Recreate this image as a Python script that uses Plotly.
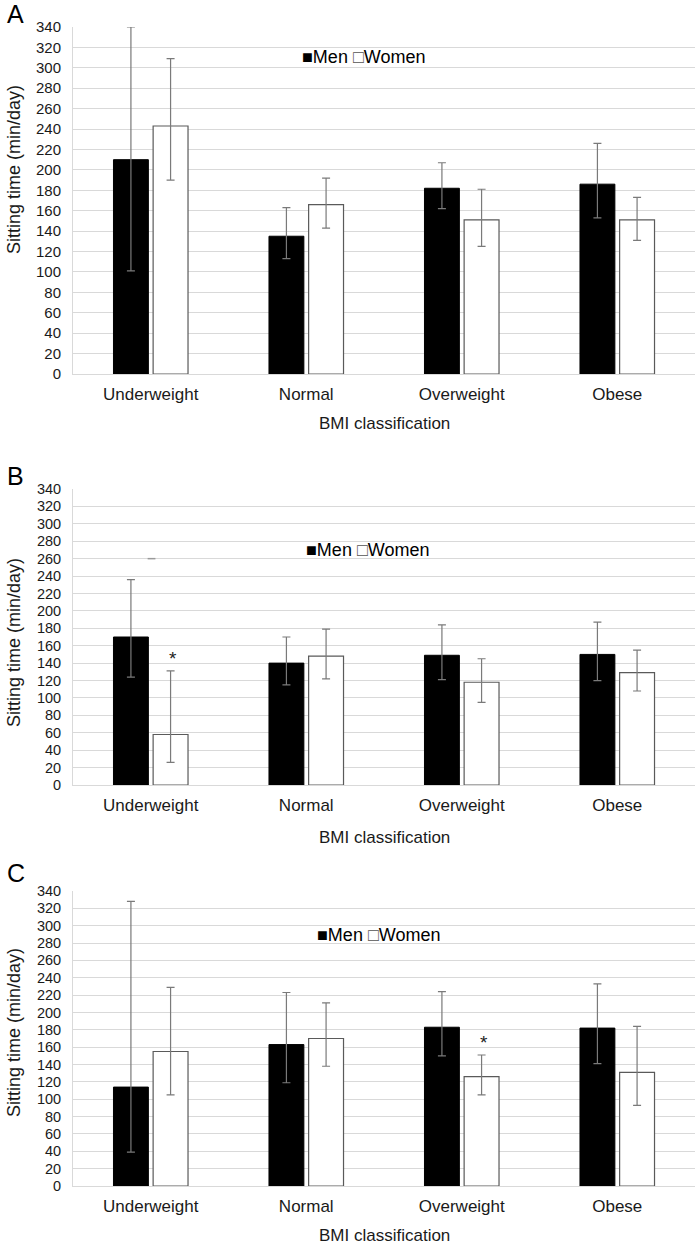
import plotly.graph_objects as go

W, H = 698, 1245

categories = ["Underweight", "Normal", "Overweight", "Obese"]
panel_letters = ["A", "B", "C"]
y_ticks = list(range(0, 341, 20))

# Panel A
a_men = [210, 135, 182, 186]
a_men_hi = [340, 163, 207, 226]
a_men_lo = [101, 113, 162, 153]
a_women = [243, 166, 151, 151]
a_women_hi = [309, 192, 181, 173]
a_women_lo = [190, 143, 125, 131]

# Panel B
b_men = [170, 140, 149, 150]
b_men_hi = [236, 170, 184, 187]
b_men_lo = [124, 115, 121, 120]
b_women = [58, 148, 118, 129]
b_women_hi = [131, 179, 145, 155]
b_women_lo = [26, 122, 95, 108]

# Panel C
c_men = [114, 163, 183, 182]
c_men_hi = [328, 223, 224, 233]
c_men_lo = [39, 119, 150, 141]
c_women = [155, 170, 126, 131]
c_women_hi = [229, 211, 151, 184]
c_women_lo = [105, 138, 105, 93]

# significance markers: (panel index, category, sex)
signif = [(1, "Underweight", "women"), (2, "Overweight", "women")]

panels = [
    (a_men, a_men_hi, a_men_lo, a_women, a_women_hi, a_women_lo),
    (b_men, b_men_hi, b_men_lo, b_women, b_women_hi, b_women_lo),
    (c_men, c_men_hi, c_men_lo, c_women, c_women_hi, c_women_lo),
]

# layout in page pixels
plot_left, plot_right = 73, 695
plot_px = [(27, 374), (489, 785), (891, 1186)]  # (top, bottom)
xlabel_y = [424, 837, 1235]
ytitle_y = [170, 643, 1033]
letter_y = [14, 476, 873]
legend_y = [57, 550, 935]
legend_x = [363, 368, 378]
tick_font = [15, 14.5, 14.5]

FONT = "Arial, 'Liberation Sans', Helvetica, sans-serif"
ERR_COL = "#7a7a7a"
GRID = "#d9d9d9"


def px_x(p):
    return p / W


def px_y(p):
    return 1 - p / H


fig = go.Figure()
annotations = []

for i, (m, mhi, mlo, w, whi, wlo) in enumerate(panels):
    xa = "x" if i == 0 else f"x{i+1}"
    ya = "y" if i == 0 else f"y{i+1}"
    fig.add_trace(go.Bar(
        x=categories, y=m, name="Men", xaxis=xa, yaxis=ya,
        marker=dict(color="#000000", line=dict(color="#000000", width=1)),
        error_y=dict(type="data", symmetric=False,
                     array=[h - v for h, v in zip(mhi, m)],
                     arrayminus=[v - l for v, l in zip(m, mlo)],
                     color=ERR_COL, thickness=1.2, width=4),
        showlegend=False,
    ))
    fig.add_trace(go.Bar(
        x=categories, y=w, name="Women", xaxis=xa, yaxis=ya,
        marker=dict(color="#ffffff", line=dict(color="#5a5a5a", width=1.2)),
        error_y=dict(type="data", symmetric=False,
                     array=[h - v for h, v in zip(whi, w)],
                     arrayminus=[v - l for v, l in zip(w, wlo)],
                     color=ERR_COL, thickness=1.2, width=4),
        showlegend=False,
    ))
    top, bot = plot_px[i]
    xkey = "xaxis" if i == 0 else f"xaxis{i+1}"
    ykey = "yaxis" if i == 0 else f"yaxis{i+1}"
    fig.update_layout(**{
        xkey: dict(domain=[px_x(plot_left), px_x(plot_right)], anchor=ya,
                   showgrid=False, showline=True, linecolor=GRID, linewidth=1,
                   ticks="", ticklabelstandoff=5,
                   tickfont=dict(family=FONT, size=17, color="#1a1a1a"),
                   automargin=False, fixedrange=True),
        ykey: dict(domain=[px_y(bot), px_y(top)], anchor=xa,
                   range=[0, 340], tickvals=y_ticks, showgrid=True,
                   gridcolor=GRID, gridwidth=1, showline=True, linecolor=GRID,
                   zeroline=False, ticks="", ticklabelstandoff=8,
                   tickfont=dict(family=FONT, size=tick_font[i], color="#1a1a1a"),
                   automargin=False, fixedrange=True),
    })
    # x-axis title
    annotations.append(dict(text="BMI classification", xref="paper", yref="paper",
                            x=px_x((plot_left + plot_right) / 2), y=px_y(xlabel_y[i]),
                            xanchor="center", yanchor="middle", showarrow=False,
                            font=dict(family=FONT, size=17, color="#1a1a1a")))
    # y-axis title
    annotations.append(dict(text="Sitting time (min/day)", xref="paper", yref="paper",
                            x=px_x(14), y=px_y(ytitle_y[i]), textangle=-90,
                            xanchor="center", yanchor="middle", showarrow=False,
                            font=dict(family=FONT, size=18, color="#1a1a1a")))
    # panel letter
    annotations.append(dict(text=panel_letters[i], xref="paper", yref="paper",
                            x=px_x(5), y=px_y(letter_y[i]),
                            xanchor="left", yanchor="middle", showarrow=False,
                            font=dict(family=FONT, size=25, color="#000000")))
    # legend
    annotations.append(dict(
        text="■Men <span style='color:#555555'>□</span>Women",
        xref="paper", yref="paper", x=px_x(legend_x[i]), y=px_y(legend_y[i]),
        xanchor="center", yanchor="middle", showarrow=False,
        font=dict(family=FONT, size=18, color="#000000")))

# significance asterisks
for pi, cat, sex in signif:
    k = categories.index(cat)
    m, mhi, mlo, w, whi, wlo = panels[pi]
    top_val = whi[k] if sex == "women" else mhi[k]
    annotations.append(dict(text="*", x=cat, y=top_val,
                            xref="x" + ("" if pi == 0 else str(pi + 1)),
                            yref="y" + ("" if pi == 0 else str(pi + 1)),
                            xshift=22 if sex == "women" else -22, yshift=0,
                            yanchor="bottom", showarrow=False,
                            font=dict(family=FONT, size=19, color="#222222")))

# small stray dash in panel B
fig.add_shape(type="line", xref="x2", yref="y2", x0=-0.02, x1=0.03, y0=260, y1=260,
              line=dict(color="#9a9a9a", width=1.5))

fig.update_layout(
    width=W, height=H, margin=dict(l=0, r=0, t=0, b=0),
    paper_bgcolor="#ffffff", plot_bgcolor="#ffffff",
    barmode="group", bargap=0.49, bargroupgap=0.12,
    annotations=annotations, showlegend=False,
)

fig.write_html(
    "out.html",
    config={"displayModeBar": False},
    post_script="document.body.style.margin='0';document.body.style.overflow='hidden';",
)
